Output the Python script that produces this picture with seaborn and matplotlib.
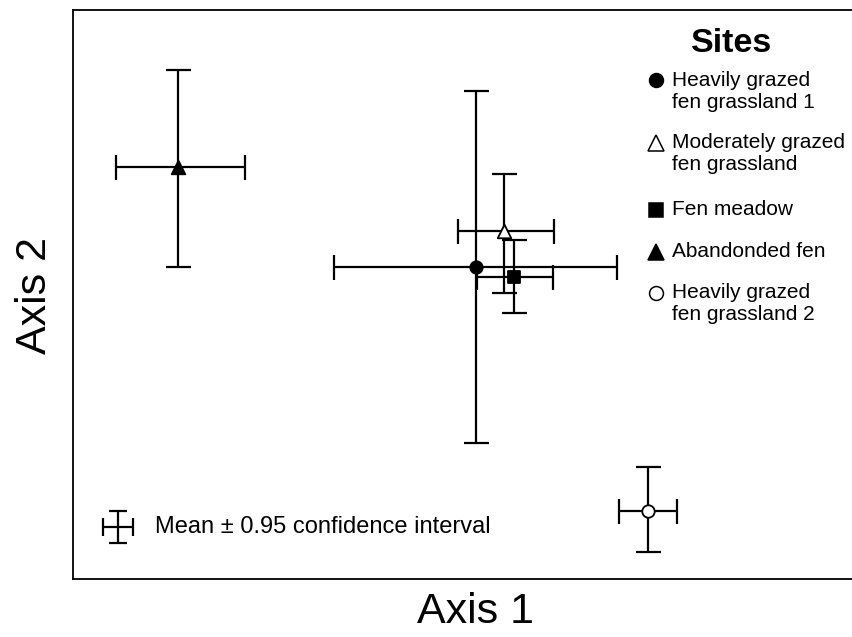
import numpy as np
import pandas as pd
import matplotlib
matplotlib.use("Agg")
import matplotlib.pyplot as plt
import seaborn as sns

# ordination means with 0.95 confidence limits (arbitrary axis units)
sites = ["Heavily grazed\nfen grassland 1", "Moderately grazed\nfen grassland",
         "Fen meadow", "Abandonded fen", "Heavily grazed\nfen grassland 2"]
axis1_mean = [51.7, 55.3, 56.6, 13.5, 73.8]
axis1_low = [33.5, 49.4, 51.9, 5.5, 70.1]
axis1_high = [69.8, 61.7, 61.6, 22.1, 77.5]
axis2_mean = [54.8, 61.2, 53.1, 72.4, 12.0]
axis2_low = [23.9, 50.3, 46.7, 54.8, 4.7]
axis2_high = [85.8, 71.2, 59.6, 89.5, 19.7]

markers = ["o", "^", "s", "^", "o"]
faces = ["black", "white", "black", "black", "white"]
sizes = [80, 95, 80, 95, 80]

df = pd.DataFrame({"site": sites, "x": axis1_mean, "y": axis2_mean,
                   "xlo": axis1_low, "xhi": axis1_high,
                   "ylo": axis2_low, "yhi": axis2_high})

sns.set_style("white")
plt.rcParams['font.family'] = ['Liberation Sans', 'DejaVu Sans']
plt.rcParams['text.color'] = 'black'

fig = plt.figure(figsize=(8.52, 6.37), dpi=100)
W, H = 852, 637
ax_left, ax_right, ax_top, ax_bottom = 73, 852, 10, 579
ax = fig.add_axes([ax_left / W, 1 - ax_bottom / H, (ax_right - ax_left) / W, (ax_bottom - ax_top) / H])

# error bars
for _, r in df.iterrows():
    ax.errorbar(r["x"], r["y"],
                xerr=[[r["x"] - r["xlo"]], [r["xhi"] - r["x"]]],
                yerr=[[r["y"] - r["ylo"]], [r["yhi"] - r["y"]]],
                fmt="none", ecolor="black", elinewidth=1.6, capsize=9, capthick=1.6, zorder=2)

# means
for i, r in df.iterrows():
    sns.scatterplot(x=[r["x"]], y=[r["y"]], marker=markers[i], color=faces[i],
                    edgecolor="black", linewidth=1.3, s=sizes[i], ax=ax, zorder=3, legend=False)

ax.set_xlim(0, 100)
ax.set_ylim(0, 100)
ax.set_xticks([])
ax.set_yticks([])
ax.set_xlabel("")
ax.set_ylabel("")
for s in ["left", "top", "bottom"]:
    ax.spines[s].set_color("black")
    ax.spines[s].set_linewidth(1.3)
ax.spines["right"].set_visible(False)

# axis titles
fig.text(476 / W, 1 - 612 / H, "Axis 1", fontsize=31, ha="center", va="center", color="black")
fig.text(35 / W, 1 - 295 / H, "Axis 2", fontsize=31, ha="center", va="center", rotation=90, color="black")

# legend of sites
fig.text(732 / W, 1 - 44 / H, "Sites", fontsize=24.5, fontweight="bold", ha="center", va="center", color="black")
leg_marker_y = [80, 143, 210, 252, 293]
leg_text_y = [91, 154, 210, 252, 304]
for i in range(len(sites)):
    mx, my = 656 / W, 1 - leg_marker_y[i] / H
    fig.lines.append(plt.Line2D([mx], [my], marker=markers[i], markersize=10 if markers[i] != "^" else 11,
                                markerfacecolor=faces[i], markeredgecolor="black", markeredgewidth=1.1,
                                linestyle="none", transform=fig.transFigure))
    fig.text(672 / W, 1 - leg_text_y[i] / H, sites[i], fontsize=15, ha="left", va="center",
             linespacing=1.2, color="black")

# confidence interval key
cx, cy = 118, 527
hx, hy = 15, 16
tf = fig.transFigure
fig.lines.append(plt.Line2D([(cx - hx) / W, (cx + hx) / W], [1 - cy / H] * 2, color="black", lw=1.6, transform=tf))
fig.lines.append(plt.Line2D([cx / W] * 2, [1 - (cy - hy) / H, 1 - (cy + hy) / H], color="black", lw=1.6, transform=tf))
fig.lines.append(plt.Line2D([(cx - hx) / W, (cx + hx) / W], [1 - cy / H] * 2, marker="|", markersize=13,
                            mew=1.6, color="black", linestyle="none", transform=tf))
fig.lines.append(plt.Line2D([cx / W] * 2, [1 - (cy - hy) / H, 1 - (cy + hy) / H], marker="_", markersize=13,
                            mew=1.6, color="black", linestyle="none", transform=tf))
fig.text(155 / W, 1 - 527 / H, "Mean \u00b1 0.95 confidence interval", fontsize=17, ha="left", va="center",
         color="black")

fig.savefig("out.png", dpi=100)
